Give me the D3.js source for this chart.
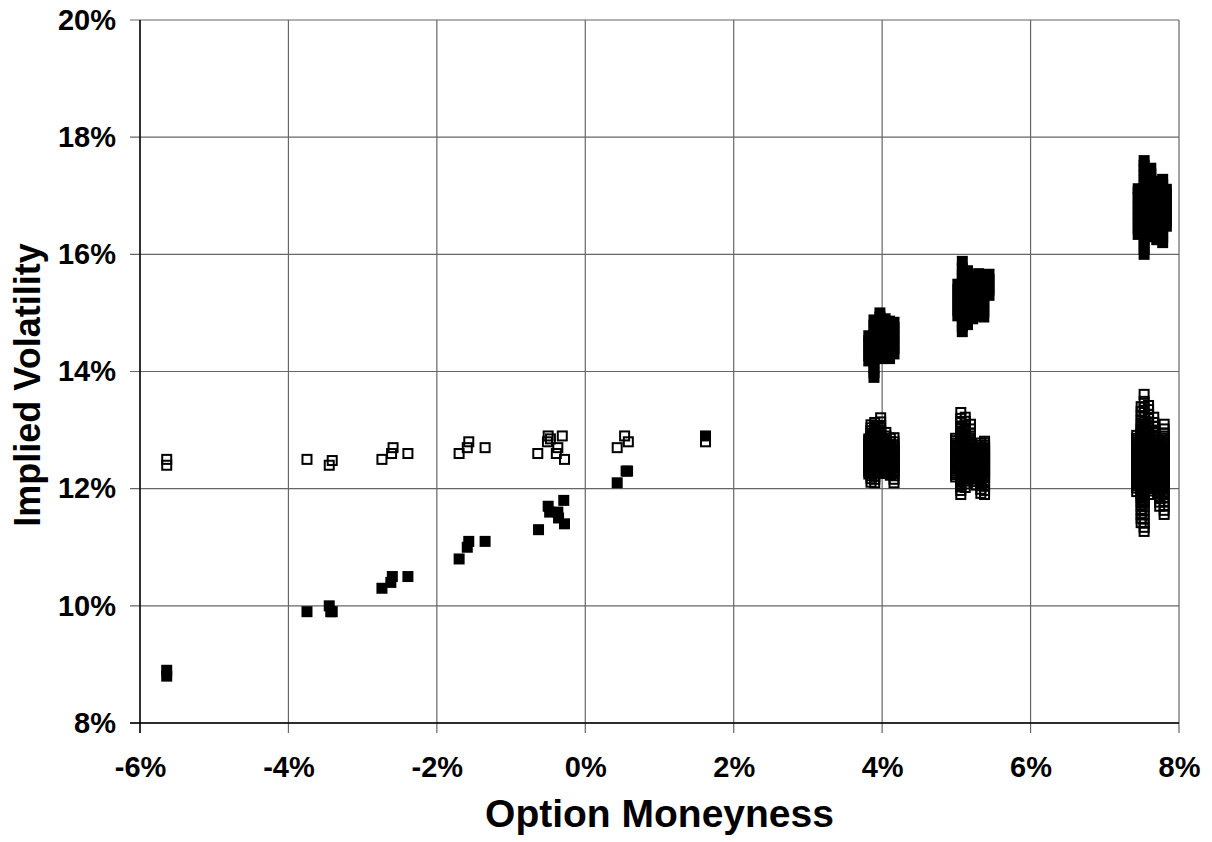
<!DOCTYPE html>
<html><head><meta charset="utf-8">
<script src="https://cdn.jsdelivr.net/npm/d3@7/dist/d3.min.js"></script>
<style>body{margin:0;background:#fff}</style>
</head><body>
<svg id="chart" width="1212" height="842"></svg>
<script>
// ---- tick values ----
const xTicks = [-6, -4, -2, 0, 2, 4, 6, 8];
const yTicks = [8, 10, 12, 14, 16, 18, 20];

// ---- filled-square series: isolated observations [moneyness %, vol %] ----
const filledScatter = [
  [-5.64, 8.9], [-5.64, 8.8], [-3.75, 9.9], [-3.45, 10.0], [-3.43, 9.9], [-3.41, 9.9],
  [-2.74, 10.3], [-2.60, 10.5], [-2.62, 10.4], [-2.39, 10.5],
  [-1.70, 10.8], [-1.57, 11.1], [-1.59, 11.0], [-1.35, 11.1],
  [-0.63, 11.3], [-0.50, 11.7], [-0.48, 11.6], [-0.37, 11.6], [-0.36, 11.5], [-0.29, 11.8], [-0.28, 11.4],
  [0.43, 12.1], [0.55, 12.3], [0.57, 12.3], [1.62, 12.9]
];
// ---- open-square series: isolated observations ----
const openScatter = [
  [-5.64, 12.5], [-5.64, 12.4], [-3.75, 12.5], [-3.45, 12.4], [-3.41, 12.48],
  [-2.74, 12.5], [-2.59, 12.7], [-2.61, 12.6], [-2.39, 12.6],
  [-1.70, 12.6], [-1.57, 12.8], [-1.59, 12.7], [-1.35, 12.7],
  [-0.64, 12.6], [-0.50, 12.9], [-0.51, 12.8], [-0.47, 12.85], [-0.31, 12.9], [-0.37, 12.7], [-0.39, 12.6], [-0.28, 12.5],
  [0.43, 12.7], [0.53, 12.9], [0.58, 12.8], [1.62, 12.8]
];

// ---- dense clusters: [moneyness, [vol readings...]] ----
const filled4 = [
  [3.82, [14.18, 14.27, 14.36, 14.45, 14.53, 14.61]],
  [3.89, [13.90, 13.98, 14.07, 14.16, 14.25, 14.34, 14.43, 14.52, 14.61, 14.70, 14.79, 14.88]],
  [3.97, [14.22, 14.31, 14.40, 14.49, 14.58, 14.67, 14.76, 14.85, 14.93, 15.00]],
  [4.04, [14.28, 14.37, 14.46, 14.55, 14.64, 14.73, 14.82, 14.90]],
  [4.10, [14.22, 14.31, 14.40, 14.49, 14.58, 14.67, 14.76, 14.86]],
  [4.16, [14.30, 14.39, 14.48, 14.57, 14.66, 14.75, 14.84]]
];
const filled52 = [
  [5.02, [14.95, 15.04, 15.13, 15.22, 15.31, 15.40, 15.49]],
  [5.08, [14.68, 14.77, 14.86, 14.95, 15.04, 15.13, 15.22, 15.31, 15.40, 15.49, 15.58, 15.67, 15.76, 15.88]],
  [5.15, [14.80, 14.89, 14.98, 15.07, 15.16, 15.25, 15.34, 15.43, 15.52, 15.61, 15.72]],
  [5.22, [14.90, 14.99, 15.08, 15.17, 15.26, 15.35, 15.44, 15.53, 15.62]],
  [5.30, [14.95, 15.04, 15.13, 15.22, 15.31, 15.40, 15.49, 15.58, 15.67]],
  [5.37, [14.93, 15.02, 15.11, 15.20, 15.29, 15.38, 15.47, 15.56, 15.65]],
  [5.44, [15.30, 15.39, 15.48, 15.57, 15.66]]
];
const filled76 = [
  [7.45, [16.34, 16.43, 16.52, 16.61, 16.70, 16.79, 16.88, 16.97, 17.06, 17.12]],
  [7.53, [16.00, 16.09, 16.18, 16.27, 16.36, 16.45, 16.54, 16.63, 16.72, 16.81, 16.90, 16.99, 17.08, 17.17, 17.26, 17.35, 17.44, 17.52, 17.60]],
  [7.62, [16.30, 16.39, 16.48, 16.57, 16.66, 16.75, 16.84, 16.93, 17.02, 17.11, 17.20, 17.29, 17.38, 17.47]],
  [7.70, [16.25, 16.34, 16.43, 16.52, 16.61, 16.70, 16.79, 16.88, 16.97, 17.06, 17.15, 17.25]],
  [7.78, [16.20, 16.29, 16.38, 16.47, 16.56, 16.65, 16.74, 16.83, 16.92, 17.01, 17.10, 17.19, 17.28]],
  [7.83, [16.48, 16.57, 16.66, 16.75, 16.84, 16.93, 17.02, 17.11]]
];
const open4 = [
  [3.82, [12.25, 12.29, 12.33, 12.36, 12.39, 12.42, 12.45, 12.48, 12.51, 12.54, 12.57, 12.60, 12.63, 12.66, 12.69, 12.72, 12.75, 12.78, 12.82, 12.85]],
  [3.85, [12.11, 12.17, 12.22, 12.26, 12.29, 12.32, 12.35, 12.38, 12.41, 12.44, 12.47, 12.50, 12.53, 12.56, 12.59, 12.62, 12.65, 12.68, 12.71, 12.74, 12.77, 12.80, 12.83, 12.86, 12.89, 12.92, 12.95, 12.99, 13.04, 13.09]],
  [3.90, [12.10, 12.16, 12.21, 12.25, 12.28, 12.31, 12.34, 12.37, 12.40, 12.43, 12.46, 12.49, 12.52, 12.55, 12.58, 12.61, 12.64, 12.67, 12.70, 12.73, 12.76, 12.79, 12.82, 12.85, 12.88, 12.91, 12.94, 12.97, 13.01, 13.06, 13.13]],
  [3.98, [12.27, 12.30, 12.33, 12.36, 12.39, 12.42, 12.45, 12.48, 12.51, 12.54, 12.57, 12.60, 12.63, 12.66, 12.69, 12.72, 12.75, 12.78, 12.81, 12.84, 12.87, 12.90, 12.93, 12.96, 12.99, 13.03, 13.08, 13.14, 13.21]],
  [4.05, [12.26, 12.29, 12.32, 12.35, 12.38, 12.41, 12.44, 12.47, 12.50, 12.53, 12.56, 12.59, 12.62, 12.65, 12.68, 12.71, 12.74, 12.77, 12.80, 12.83, 12.86, 12.90, 12.96]],
  [4.11, [12.23, 12.27, 12.30, 12.33, 12.36, 12.39, 12.42, 12.45, 12.48, 12.51, 12.54, 12.57, 12.60, 12.63, 12.66, 12.69, 12.72, 12.75, 12.80, 12.86]],
  [4.16, [12.10, 12.16, 12.22, 12.26, 12.29, 12.32, 12.35, 12.38, 12.41, 12.44, 12.47, 12.50, 12.53, 12.56, 12.59, 12.62, 12.65, 12.68, 12.71, 12.75, 12.80, 12.87]]
];
const open52 = [
  [4.99, [12.20, 12.24, 12.27, 12.30, 12.33, 12.36, 12.39, 12.42, 12.45, 12.48, 12.51, 12.54, 12.57, 12.60, 12.63, 12.66, 12.69, 12.72, 12.75, 12.78, 12.82, 12.86]],
  [5.06, [11.90, 11.97, 12.03, 12.08, 12.11, 12.14, 12.17, 12.20, 12.23, 12.26, 12.29, 12.32, 12.35, 12.38, 12.41, 12.44, 12.47, 12.50, 12.53, 12.56, 12.59, 12.62, 12.65, 12.68, 12.71, 12.74, 12.77, 12.80, 12.83, 12.86, 12.89, 12.92, 12.95, 12.98, 13.02, 13.07, 13.13, 13.20, 13.30]],
  [5.12, [12.02, 12.08, 12.13, 12.16, 12.19, 12.22, 12.25, 12.28, 12.31, 12.34, 12.37, 12.40, 12.43, 12.46, 12.49, 12.52, 12.55, 12.58, 12.61, 12.64, 12.67, 12.70, 12.73, 12.76, 12.79, 12.82, 12.85, 12.88, 12.91, 12.94, 12.98, 13.03, 13.09, 13.15, 13.22]],
  [5.19, [12.20, 12.23, 12.26, 12.29, 12.32, 12.35, 12.38, 12.41, 12.44, 12.47, 12.50, 12.53, 12.56, 12.59, 12.62, 12.65, 12.68, 12.71, 12.74, 12.77, 12.80, 12.83, 12.86, 12.90, 12.95, 13.02, 13.10]],
  [5.27, [12.06, 12.12, 12.16, 12.19, 12.22, 12.25, 12.28, 12.31, 12.34, 12.37, 12.40, 12.43, 12.46, 12.49, 12.52, 12.55, 12.58, 12.61, 12.64, 12.67, 12.70]],
  [5.33, [11.92, 11.99, 12.05, 12.10, 12.13, 12.16, 12.19, 12.22, 12.25, 12.28, 12.31, 12.34, 12.37, 12.40, 12.43, 12.46, 12.49, 12.52, 12.55, 12.58, 12.61, 12.64, 12.67, 12.70, 12.74, 12.78]],
  [5.38, [11.90, 11.97, 12.04, 12.10, 12.15, 12.19, 12.22, 12.25, 12.28, 12.31, 12.34, 12.37, 12.40, 12.43, 12.46, 12.49, 12.52, 12.55, 12.58, 12.61, 12.64, 12.67, 12.70, 12.74, 12.78, 12.81]]
];
const open76 = [
  [7.43, [11.95, 12.01, 12.05, 12.08, 12.11, 12.14, 12.17, 12.20, 12.23, 12.26, 12.29, 12.32, 12.35, 12.38, 12.41, 12.44, 12.47, 12.50, 12.53, 12.56, 12.59, 12.62, 12.65, 12.68, 12.71, 12.74, 12.77, 12.80, 12.83, 12.86, 12.91]],
  [7.49, [11.42, 11.49, 11.56, 11.63, 11.70, 11.76, 11.81, 11.85, 11.88, 11.91, 11.94, 11.97, 12.00, 12.03, 12.06, 12.09, 12.12, 12.15, 12.18, 12.21, 12.24, 12.27, 12.30, 12.33, 12.36, 12.39, 12.42, 12.45, 12.48, 12.51, 12.54, 12.57, 12.60, 12.63, 12.66, 12.69, 12.72, 12.75, 12.78, 12.81, 12.84, 12.87, 12.90, 12.93, 12.96, 12.99, 13.02, 13.06, 13.11, 13.17, 13.24, 13.32, 13.40]],
  [7.53, [11.27, 11.34, 11.41, 11.48, 11.55, 11.62, 11.69, 11.75, 11.80, 11.84, 11.88, 11.92, 11.95, 11.98, 12.01, 12.04, 12.07, 12.10, 12.13, 12.16, 12.19, 12.22, 12.25, 12.28, 12.31, 12.34, 12.37, 12.40, 12.43, 12.46, 12.49, 12.52, 12.55, 12.58, 12.61, 12.64, 12.67, 12.70, 12.73, 12.76, 12.79, 12.82, 12.85, 12.88, 12.91, 12.94, 12.97, 13.00, 13.04, 13.09, 13.15, 13.22, 13.30, 13.39, 13.49, 13.61]],
  [7.59, [11.90, 11.96, 12.00, 12.03, 12.06, 12.09, 12.12, 12.15, 12.18, 12.21, 12.24, 12.27, 12.30, 12.33, 12.36, 12.39, 12.42, 12.45, 12.48, 12.51, 12.54, 12.57, 12.60, 12.63, 12.66, 12.69, 12.72, 12.75, 12.78, 12.81, 12.84, 12.87, 12.90, 12.93, 12.96, 12.99, 13.03, 13.08, 13.14, 13.20, 13.27, 13.35, 13.42]],
  [7.66, [12.00, 12.04, 12.07, 12.10, 12.13, 12.16, 12.19, 12.22, 12.25, 12.28, 12.31, 12.34, 12.37, 12.40, 12.43, 12.46, 12.49, 12.52, 12.55, 12.58, 12.61, 12.64, 12.67, 12.70, 12.73, 12.76, 12.79, 12.82, 12.85, 12.88, 12.91, 12.95, 13.00, 13.06, 13.13, 13.22]],
  [7.74, [11.70, 11.77, 11.83, 11.88, 11.92, 11.95, 11.98, 12.01, 12.04, 12.07, 12.10, 12.13, 12.16, 12.19, 12.22, 12.25, 12.28, 12.31, 12.34, 12.37, 12.40, 12.43, 12.46, 12.49, 12.52, 12.55, 12.58, 12.61, 12.64, 12.67, 12.70, 12.73, 12.76, 12.80]],
  [7.80, [11.56, 11.63, 11.70, 11.77, 11.84, 11.90, 11.95, 11.99, 12.02, 12.05, 12.08, 12.11, 12.14, 12.17, 12.20, 12.23, 12.26, 12.29, 12.32, 12.35, 12.38, 12.41, 12.44, 12.47, 12.50, 12.53, 12.56, 12.59, 12.62, 12.65, 12.68, 12.71, 12.74, 12.77, 12.80, 12.83, 12.86, 12.90, 12.95, 13.02, 13.10]]
];

const xTitle = "Option Moneyness";
const yTitle = "Implied Volatility";

// ---- build point tables ----
function expand(cols) { return cols.flatMap(([x, ys]) => ys.map(y => [x, y])); }
const filledPts = filledScatter.concat(expand(filled4), expand(filled52), expand(filled76));
const openPts = openScatter.concat(expand(open4), expand(open52), expand(open76));

// ---- layout ----
const svg = d3.select("#chart");
const L = 140, R = 1179, T = 20, B = 723;
const x = d3.scaleLinear().domain([-6, 8]).range([L, R]);
const y = d3.scaleLinear().domain([8, 20]).range([B, T]);
const font = "'Liberation Sans', Arial, Helvetica, sans-serif";

// gridlines (with outer tick stubs)
const gridColor = "#666";
svg.append("g").selectAll("line").data(yTicks).join("line")
  .attr("x1", L - 10).attr("x2", R).attr("y1", d => y(d)).attr("y2", d => y(d))
  .attr("stroke", gridColor).attr("stroke-width", 1.2);
svg.append("g").selectAll("line").data(xTicks).join("line")
  .attr("x1", d => x(d)).attr("x2", d => x(d)).attr("y1", T).attr("y2", B + 10)
  .attr("stroke", gridColor).attr("stroke-width", 1.2);

// axes lines
svg.append("line").attr("x1", L).attr("x2", L).attr("y1", T).attr("y2", B + 10)
  .attr("stroke", "#000").attr("stroke-width", 1.4);
svg.append("line").attr("x1", L - 10).attr("x2", R).attr("y1", B).attr("y2", B)
  .attr("stroke", "#000").attr("stroke-width", 1.4);

// tick labels via d3 axes
const yAxis = svg.append("g").attr("transform", `translate(${L},0)`)
  .call(d3.axisLeft(y).tickValues(yTicks).tickFormat(d => d + "%").tickSize(0).tickPadding(24));
const xAxis = svg.append("g").attr("transform", `translate(0,${B})`)
  .call(d3.axisBottom(x).tickValues(xTicks).tickFormat(d => d + "%").tickSize(0).tickPadding(33));
[yAxis, xAxis].forEach(g => {
  g.select(".domain").remove();
  g.selectAll("text").attr("font-family", font).attr("font-weight", "bold")
    .attr("font-size", 29).attr("fill", "#000");
});

// markers
const S = 11;
svg.append("g").selectAll("rect").data(filledPts).join("rect")
  .attr("x", d => x(d[0]) - S / 2).attr("y", d => y(d[1]) - S / 2)
  .attr("width", S).attr("height", S).attr("fill", "#000");
const sw = 2;
svg.append("g").selectAll("rect").data(openPts).join("rect")
  .attr("x", d => x(d[0]) - S / 2 + sw / 2).attr("y", d => y(d[1]) - S / 2 + sw / 2)
  .attr("width", S - sw).attr("height", S - sw)
  .attr("fill", "none").attr("stroke", "#000").attr("stroke-width", sw);

// titles
svg.append("text").attr("x", (L + R) / 2).attr("y", 827).attr("text-anchor", "middle")
  .attr("font-family", font).attr("font-weight", "bold").attr("font-size", 39).text(xTitle);
svg.append("text").attr("transform", `translate(40,${385}) rotate(-90)`).attr("text-anchor", "middle")
  .attr("font-family", font).attr("font-weight", "bold").attr("font-size", 36).text(yTitle);
</script>
</body></html>
